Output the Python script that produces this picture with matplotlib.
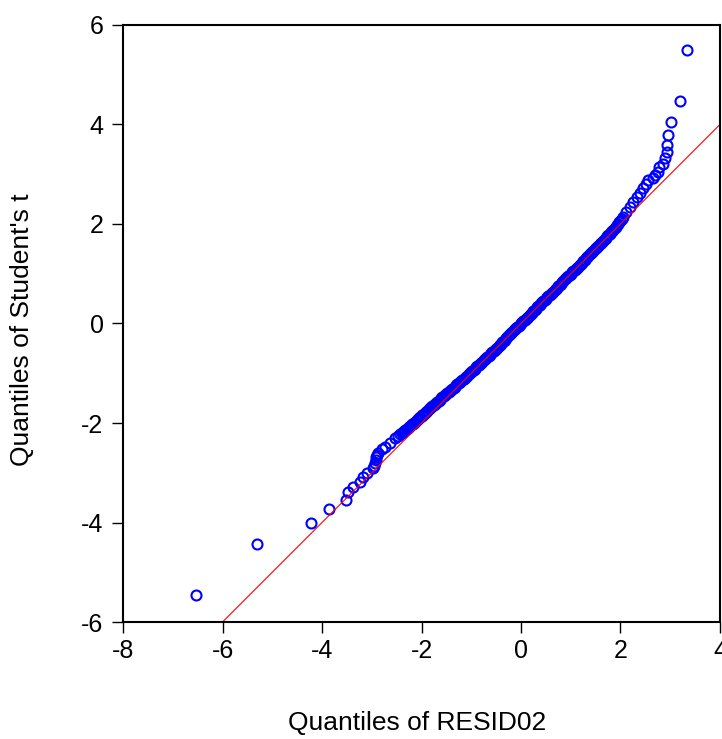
import matplotlib
matplotlib.use("Agg")
import matplotlib.pyplot as plt

plt.rcParams['font.family'] = ['Liberation Sans', 'DejaVu Sans']

# sample quantiles of RESID02 (x) against Student's t quantiles (y)
tail_lo_x = [-6.53, -5.31, -4.23, -3.85, -3.52, -3.47, -3.37, -3.24, -3.17,
             -3.10, -2.97, -2.95, -2.93, -2.92, -2.91, -2.90, -2.88, -2.80,
             -2.73, -2.63, -2.53, -2.48, -2.43]
tail_lo_y = [-5.46, -4.43, -4.00, -3.73, -3.55, -3.39, -3.28, -3.18, -3.09,
             -3.00, -2.91, -2.86, -2.81, -2.75, -2.69, -2.65, -2.61, -2.52,
             -2.48, -2.41, -2.31, -2.27, -2.23]

body_x = [-2.40, -2.38, -2.35, -2.33, -2.30, -2.28, -2.25, -2.23, -2.20, -2.18,
          -2.15, -2.13, -2.10, -2.08, -2.05, -2.03, -2.00, -1.98, -1.95, -1.93,
          -1.90, -1.88, -1.85, -1.83, -1.80, -1.78, -1.75, -1.73, -1.70, -1.68,
          -1.65, -1.63, -1.60, -1.58, -1.55, -1.53, -1.50, -1.48, -1.45, -1.43,
          -1.40, -1.38, -1.35, -1.33, -1.30, -1.28, -1.25, -1.23, -1.20, -1.18,
          -1.15, -1.13, -1.10, -1.08, -1.05, -1.03, -1.00, -0.98, -0.95, -0.93,
          -0.90, -0.88, -0.85, -0.83, -0.80, -0.78, -0.75, -0.73, -0.70, -0.68,
          -0.65, -0.63, -0.60, -0.58, -0.55, -0.53, -0.50, -0.48, -0.45, -0.43,
          -0.40, -0.38, -0.35, -0.33, -0.30, -0.28, -0.25, -0.23, -0.20, -0.18,
          -0.15, -0.13, -0.10, -0.08, -0.05, -0.03, 0.00, 0.03, 0.05, 0.08,
          0.10, 0.13, 0.15, 0.18, 0.20, 0.23, 0.25, 0.28, 0.30, 0.33,
          0.35, 0.38, 0.40, 0.43, 0.45, 0.48, 0.50, 0.53, 0.55, 0.58,
          0.60, 0.63, 0.65, 0.68, 0.70, 0.73, 0.75, 0.78, 0.80, 0.83,
          0.85, 0.88, 0.90, 0.93, 0.95, 0.98, 1.00, 1.03, 1.05, 1.08,
          1.10, 1.13, 1.15, 1.18, 1.20, 1.23, 1.25, 1.28, 1.30, 1.33,
          1.35, 1.38, 1.40, 1.43, 1.45, 1.48, 1.50, 1.53, 1.55, 1.58,
          1.60, 1.63, 1.65, 1.68, 1.70, 1.73, 1.75, 1.78, 1.80, 1.83,
          1.85, 1.88, 1.90, 1.93, 1.95, 1.98, 2.00, 2.03]
body_y = [-2.21, -2.19, -2.17, -2.15, -2.12, -2.10, -2.08, -2.06, -2.03, -2.01,
          -1.99, -1.97, -1.94, -1.92, -1.90, -1.88, -1.86, -1.84, -1.81, -1.79,
          -1.77, -1.75, -1.72, -1.70, -1.68, -1.66, -1.63, -1.61, -1.59, -1.57,
          -1.55, -1.53, -1.50, -1.48, -1.46, -1.44, -1.42, -1.40, -1.37, -1.35,
          -1.33, -1.31, -1.29, -1.27, -1.24, -1.22, -1.20, -1.18, -1.16, -1.14,
          -1.11, -1.09, -1.07, -1.05, -1.02, -1.00, -0.98, -0.96, -0.93, -0.91,
          -0.88, -0.86, -0.84, -0.82, -0.79, -0.77, -0.74, -0.72, -0.69, -0.67,
          -0.65, -0.63, -0.60, -0.58, -0.55, -0.53, -0.51, -0.49, -0.46, -0.44,
          -0.41, -0.38, -0.35, -0.33, -0.30, -0.27, -0.24, -0.22, -0.19, -0.17,
          -0.14, -0.12, -0.10, -0.08, -0.05, -0.03, 0.00, 0.03, 0.05, 0.07,
          0.09, 0.12, 0.14, 0.17, 0.19, 0.22, 0.25, 0.28, 0.30, 0.33,
          0.35, 0.38, 0.41, 0.44, 0.46, 0.48, 0.50, 0.53, 0.55, 0.58,
          0.60, 0.62, 0.64, 0.67, 0.69, 0.72, 0.75, 0.78, 0.80, 0.83,
          0.86, 0.89, 0.91, 0.94, 0.96, 0.98, 1.00, 1.03, 1.05, 1.08,
          1.10, 1.12, 1.14, 1.17, 1.19, 1.22, 1.25, 1.28, 1.31, 1.34,
          1.36, 1.39, 1.41, 1.44, 1.46, 1.49, 1.51, 1.54, 1.56, 1.59,
          1.61, 1.64, 1.66, 1.69, 1.72, 1.75, 1.77, 1.80, 1.83, 1.86,
          1.88, 1.91, 1.94, 1.97, 2.00, 2.03, 2.06, 2.11]

tail_hi_x = [2.06, 2.12, 2.19, 2.26, 2.33, 2.39, 2.46, 2.51, 2.56, 2.65,
             2.70, 2.75, 2.77, 2.85, 2.89, 2.93, 2.94, 2.95, 3.02, 3.20, 3.34]
tail_hi_y = [2.15, 2.25, 2.35, 2.45, 2.55, 2.63, 2.72, 2.80, 2.88, 2.92,
             2.98, 3.05, 3.14, 3.21, 3.32, 3.44, 3.59, 3.78, 4.04, 4.47, 5.50]

ref_x = [-6, 4]
ref_y = [-6, 4]

xs = tail_lo_x + body_x + tail_hi_x
ys = tail_lo_y + body_y + tail_hi_y

fig = plt.figure(figsize=(7.22, 7.39), dpi=100)
ax = fig.add_axes([0.1704, 0.1583, 0.8268, 0.8079])

ax.plot(xs, ys, linestyle='none', marker='o', markersize=7.2,
        markerfacecolor='none', markeredgecolor='#0000ff', markeredgewidth=1.5)
ax.plot(ref_x, ref_y, color='#ff0000', linewidth=0.8)

ax.set_xlim(-8, 4)
ax.set_ylim(-6, 6)
ax.set_xticks([-8, -6, -4, -2, 0, 2, 4])
ax.set_yticks([-6, -4, -2, 0, 2, 4, 6])
ax.set_xticklabels(['-8', '-6', '-4', '-2', '0', '2', '4'])
ax.set_yticklabels(['-6', '-4', '-2', '0', '2', '4', '6'])
ax.tick_params(direction='out', length=8, width=1.0, labelsize=18)
ax.tick_params(axis='y', pad=6)
ax.tick_params(axis='x', pad=4)
for s in ax.spines.values():
    s.set_linewidth(1.5)

ax.set_xlabel('Quantiles of RESID02', fontsize=19, va='center')
ax.xaxis.set_label_coords(0.493, -0.169)
ax.set_ylabel("Quantiles of Student's t", fontsize=19, va='center')
ax.yaxis.set_label_coords(-0.169, 0.489)

fig.savefig('out.png', dpi=100)
